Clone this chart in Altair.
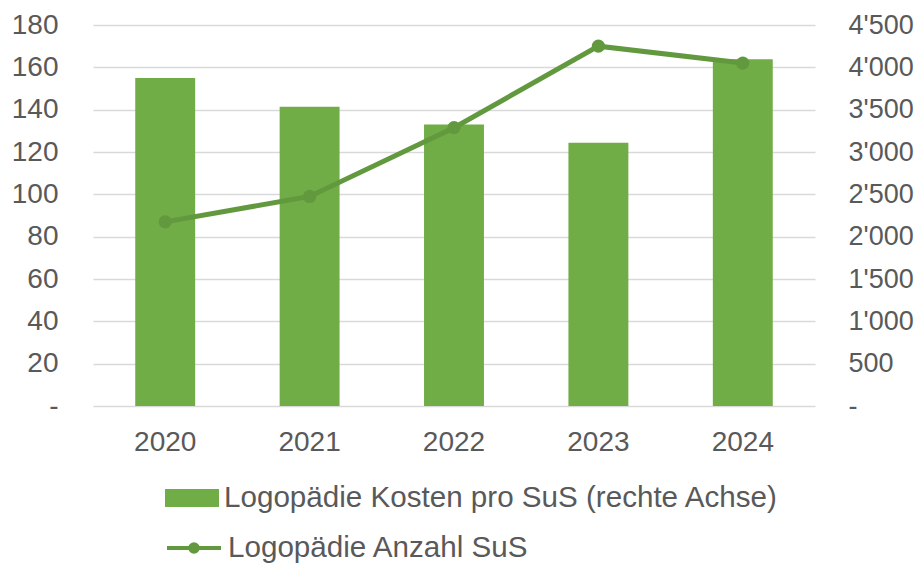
import altair as alt
import pandas as pd

years = ["2020", "2021", "2022", "2023", "2024"]
kosten_pro_sus = [3875, 3535, 3325, 3110, 4095]   # bars, right axis
anzahl_sus = [87, 99, 131.5, 170, 162]             # line, left axis

bar_name = "Logopädie Kosten pro SuS (rechte Achse)"
line_name = "Logopädie Anzahl SuS"

df = pd.DataFrame({
    "Jahr": years,
    "Kosten": kosten_pro_sus,
    "Anzahl": anzahl_sus,
    "BarSeries": [bar_name] * len(years),
    "LineSeries": [line_name] * len(years),
})

FONT = "Liberation Sans, Arial, sans-serif"
FS = 28
RFS = 27
LFS = 29.6
GREY = "#595959"
BAR_C = "#70AD47"
LINE_C = "#62993E"

x = alt.X("Jahr:N", sort=years, title=None,
          scale=alt.Scale(paddingInner=0.585, paddingOuter=0.2925),
          axis=alt.Axis(labelAngle=0, domain=False, ticks=False, labelPadding=22,
                        labelFontSize=FS, labelColor=GREY, labelFont=FONT))

bars = alt.Chart(df).mark_bar(color=BAR_C).encode(
    x=x,
    y=alt.Y("Kosten:Q", title=None,
            scale=alt.Scale(domain=[0, 4500], nice=False),
            axis=alt.Axis(orient="right", values=list(range(0, 4501, 500)), grid=False,
                          domain=False, ticks=False, labelPadding=33,
                          labelFontSize=RFS, labelColor=GREY, labelFont=FONT,
                          labelExpr="datum.value == 0 ? '-' : replace(format(datum.value, ','), ',', \"'\")")),
    fill=alt.Fill("BarSeries:N", title=None,
                  scale=alt.Scale(domain=[bar_name], range=[BAR_C]),
                  legend=alt.Legend(orient="none", legendX=72, legendY=446, padding=0,
                                    symbolType="M-1,-0.333H1V0.333H-1Z", symbolSize=2916,
                                    symbolStrokeWidth=0, labelOffset=5,
                                    labelFontSize=LFS, labelColor=GREY, labelFont=FONT,
                                    labelLimit=800)),
)

y_left = alt.Y("Anzahl:Q", title=None,
               scale=alt.Scale(domain=[0, 180], nice=False),
               axis=alt.Axis(orient="left", values=list(range(0, 181, 20)), grid=True,
                             gridColor="#D9D9D9", gridWidth=1.5,
                             domain=False, ticks=False, labelPadding=35,
                             labelFontSize=FS, labelColor=GREY, labelFont=FONT,
                             labelExpr="datum.value == 0 ? '-\u00a0\u00a0' : format(datum.value, 'd')"))

line = alt.Chart(df).mark_line(strokeWidth=5).encode(
    x=x,
    y=y_left,
    stroke=alt.Stroke("LineSeries:N", title=None,
                      scale=alt.Scale(domain=[line_name], range=[LINE_C]),
                      legend=alt.Legend(orient="none", legendX=72, legendY=494, padding=0,
                                        symbolType="M-1,0H1M-0.14,0A0.14,0.14 0 1,0 0.14,0A0.14,0.14 0 1,0 -0.14,0",
                                        symbolSize=2916, symbolStrokeWidth=4,
                                        symbolFillColor=LINE_C, labelOffset=5,
                                        labelFontSize=LFS, labelColor=GREY, labelFont=FONT,
                                        labelLimit=800)),
)

points = alt.Chart(df).mark_circle(size=175, opacity=1, color=LINE_C).encode(
    x=x,
    y=y_left,
)

chart = alt.layer(bars, line + points).resolve_scale(
    y="independent", fill="independent", stroke="independent"
).properties(
    width=722, height=381,
    autosize=alt.AutoSizeParams(type="none"),
    padding={"left": 85, "top": 17, "right": 100, "bottom": 170},
).configure_view(stroke=None)

chart.save("out.html", embed_options={"renderer": "svg", "actions": False})
